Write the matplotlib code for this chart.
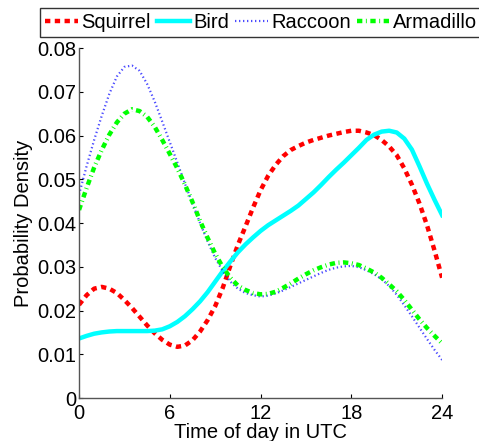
import matplotlib
matplotlib.use("Agg")
import matplotlib.pyplot as plt

# half-hour readings, 0..24
hours = [i * 0.5 for i in range(49)]

squirrel = [0.0213, 0.0235, 0.0250, 0.0254, 0.0250, 0.0240, 0.0224, 0.0206, 0.0186, 0.0166,
            0.0148, 0.0133, 0.0122, 0.0117, 0.0120, 0.0132, 0.0152, 0.0178, 0.0210, 0.0252,
            0.0302, 0.0350, 0.0392, 0.0435, 0.0475, 0.0508, 0.0533, 0.0553, 0.0567, 0.0576,
            0.0584, 0.0590, 0.0595, 0.0600, 0.0604, 0.0608, 0.0611, 0.0611, 0.0607, 0.0601,
            0.0590, 0.0575, 0.0555, 0.0525, 0.0488, 0.0445, 0.0395, 0.0337, 0.0275]
bird = [0.0136, 0.0142, 0.0147, 0.0150, 0.0152, 0.0153, 0.0153, 0.0153, 0.0153, 0.0153,
        0.0154, 0.0157, 0.0164, 0.0174, 0.0187, 0.0203, 0.0221, 0.0242, 0.0266, 0.0290,
        0.0312, 0.0333, 0.0351, 0.0367, 0.0382, 0.0395, 0.0406, 0.0417, 0.0428, 0.0440,
        0.0455, 0.0470, 0.0487, 0.0505, 0.0522, 0.0538, 0.0555, 0.0572, 0.0590, 0.0602,
        0.0609, 0.0611, 0.0607, 0.0593, 0.0568, 0.0530, 0.0490, 0.0453, 0.0418]
raccoon = [0.0465, 0.0530, 0.0590, 0.0645, 0.0695, 0.0735, 0.0757, 0.0760, 0.0748, 0.0718,
           0.0678, 0.0632, 0.0585, 0.0538, 0.0490, 0.0445, 0.0400, 0.0358, 0.0320, 0.0290,
           0.0266, 0.0250, 0.0240, 0.0235, 0.0232, 0.0234, 0.0239, 0.0246, 0.0254, 0.0262,
           0.0270, 0.0278, 0.0286, 0.0293, 0.0298, 0.0301, 0.0302, 0.0299, 0.0292, 0.0283,
           0.0272, 0.0256, 0.0236, 0.0212, 0.0187, 0.0161, 0.0135, 0.0110, 0.0087]
armadillo = [0.0430, 0.0480, 0.0527, 0.0567, 0.0602, 0.0630, 0.0650, 0.0660, 0.0656, 0.0643,
             0.0620, 0.0590, 0.0558, 0.0525, 0.0488, 0.0448, 0.0405, 0.0366, 0.0330, 0.0299,
             0.0275, 0.0257, 0.0247, 0.0240, 0.0237, 0.0238, 0.0243, 0.0252, 0.0262, 0.0273,
             0.0283, 0.0292, 0.0299, 0.0305, 0.0309, 0.0310, 0.0308, 0.0304, 0.0296, 0.0287,
             0.0275, 0.0260, 0.0244, 0.0224, 0.0202, 0.0180, 0.0160, 0.0142, 0.0125]

xticks = [0, 6, 12, 18, 24]
yticks = [0, 0.01, 0.02, 0.03, 0.04, 0.05, 0.06, 0.07, 0.08]
ytick_labels = ['0', '0.01', '0.02', '0.03', '0.04', '0.05', '0.06', '0.07', '0.08']

plt.rcParams['font.family'] = ['Liberation Sans', 'DejaVu Sans']

fig = plt.figure(figsize=(4.79, 4.41), dpi=100)
ax = fig.add_axes([0.165, 0.0975, 0.758, 0.7935])

ax.plot(hours, squirrel, color='red', ls=(0, (1.2, 1.0)), lw=3.2, label='Squirrel')
ax.plot(hours, bird, color='cyan', ls='-', lw=3.2, label='Bird')
ax.plot(hours, raccoon, color='blue', ls=(0, (0.6, 1.2)), lw=1.6, alpha=0.7, label='Raccoon')
ax.plot(hours, armadillo, color='#00ff00', ls=(0, (1.2, 0.8, 0.2, 0.8)), lw=3.2, label='Armadillo')

ax.set_xlim(0, 24)
ax.set_ylim(0, 0.08)
ax.set_xticks(xticks)
ax.set_yticks(yticks)
ax.set_yticklabels(ytick_labels)
ax.tick_params(direction='in', length=3, labelsize=14.5, colors='black')
ax.tick_params(axis='x', pad=4)
ax.tick_params(axis='y', pad=2)
for side in ['top', 'right']:
    ax.spines[side].set_visible(False)
for side in ['left', 'bottom']:
    ax.spines[side].set_color('#555555')
    ax.spines[side].set_linewidth(1.0)

ax.set_xlabel('Time of day in UTC', fontsize=14.5, labelpad=0)
ax.set_ylabel('Probability Density', fontsize=14.5, labelpad=3)

leg = fig.legend(loc='upper left', bbox_to_anchor=(0.0835, 0.982), ncol=4, fontsize=14.5,
                 handlelength=1.65, handletextpad=0.15, columnspacing=0.3,
                 borderpad=0.25, frameon=True, fancybox=False, borderaxespad=0)
leg.get_frame().set_edgecolor('black')
leg.get_frame().set_linewidth(1.0)

fig.savefig('out.png', dpi=100)
